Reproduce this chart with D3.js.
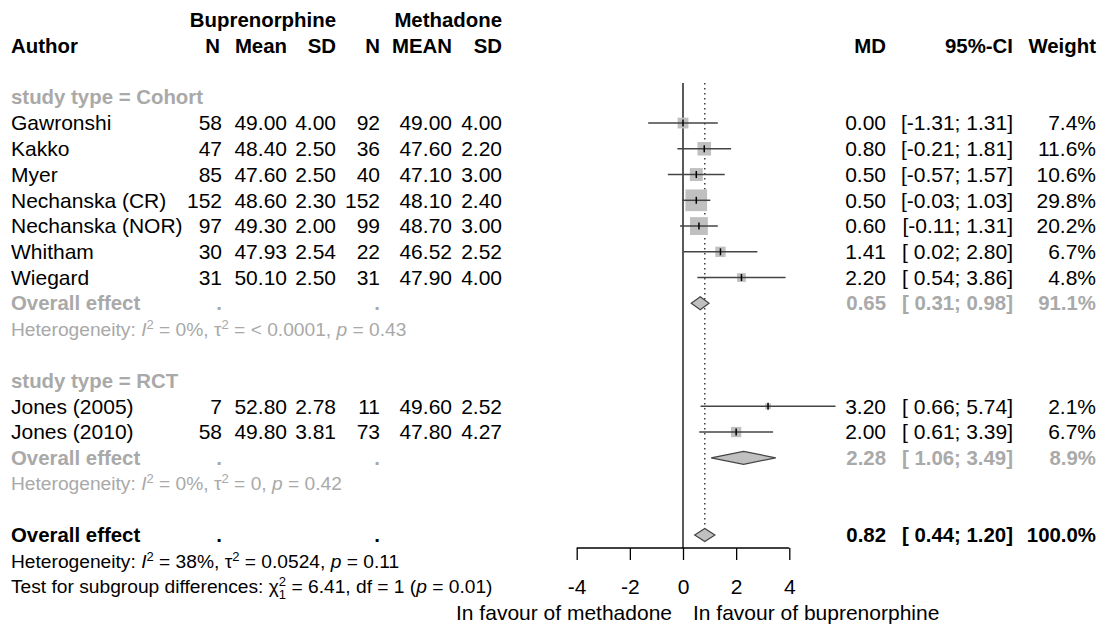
<!DOCTYPE html>
<html>
<head>
<meta charset="utf-8">
<script src="https://cdn.jsdelivr.net/npm/d3@7"></script>
<style>
  html, body { margin: 0; padding: 0; background: #ffffff; }
  svg { display: block; }
  text { font-family: 'Liberation Sans', Arial, Helvetica, sans-serif; }
</style>
</head>
<body>
<svg id="chart" width="1106" height="630"></svg>
<script>
// ---------------- data ----------------
const authors   = ["Gawronshi", "Kakko", "Myer", "Nechanska (CR)", "Nechanska (NOR)", "Whitham", "Wiegard", "Jones (2005)", "Jones (2010)"];
const studyType = ["Cohort", "Cohort", "Cohort", "Cohort", "Cohort", "Cohort", "Cohort", "RCT", "RCT"];
const nBup      = [58, 47, 85, 152, 97, 30, 31, 7, 58];
const meanBup   = ["49.00", "48.40", "47.60", "48.60", "49.30", "47.93", "50.10", "52.80", "49.80"];
const sdBup     = ["4.00", "2.50", "2.50", "2.30", "2.00", "2.54", "2.50", "2.78", "3.81"];
const nMet      = [92, 36, 40, 152, 99, 22, 31, 11, 73];
const meanMet   = ["49.00", "47.60", "47.10", "48.10", "48.70", "46.52", "47.90", "49.60", "47.80"];
const sdMet     = ["4.00", "2.20", "3.00", "2.40", "3.00", "2.52", "4.00", "2.52", "4.27"];
const md        = [0.00, 0.80, 0.50, 0.50, 0.60, 1.41, 2.20, 3.20, 2.00];
const ciLow     = [-1.31, -0.21, -0.57, -0.03, -0.11, 0.02, 0.54, 0.66, 0.61];
const ciHigh    = [1.31, 1.81, 1.57, 1.03, 1.31, 2.80, 3.86, 5.74, 3.39];
const weight    = [7.4, 11.6, 10.6, 29.8, 20.2, 6.7, 4.8, 2.1, 6.7];

const groupNames  = ["Cohort", "RCT"];
const groupMD     = [0.65, 2.28];
const groupLow    = [0.31, 1.06];
const groupHigh   = [0.98, 3.49];
const groupWeight = [91.1, 8.9];
const groupI2     = ["0%", "0%"];
const groupTau2   = ["< 0.0001", "0"];
const groupP      = ["0.43", "0.42"];

const overallMD = 0.82, overallLow = 0.44, overallHigh = 1.20, overallWeight = 100.0;
const overallI2 = "38%", overallTau2 = "0.0524", overallP = "0.11";
const subgroupChi = "6.41", subgroupDf = "1", subgroupP = "0.01";

const tickValues = [-4, -2, 0, 2, 4];
const leftLabel = "In favour of methadone";
const rightLabel = "In favour of buprenorphine";

// ---------------- layout ----------------
const svg = d3.select("#chart");
const FS = 21, BFS = 20.4, HFS = 19.2;
const grey = "#a9a9a9";

const x = d3.scaleLinear().domain([-4, 4]).range([576.7, 789.3]);
const rowY = d3.scaleLinear().domain([0, 1]).range([97.3, 123.05]);

const col = { author: 11, n1: 222, m1: 287, s1: 336, n2: 380, m2: 452, s2: 502, md: 886, ci: 1013, w: 1096 };

function txt(s, xp, row, opts = {}) {
  return svg.append("text")
    .attr("x", xp)
    .attr("y", rowY(row))
    .attr("dy", "0.35em")
    .attr("text-anchor", opts.anchor || "end")
    .attr("font-size", opts.size || (opts.bold ? BFS : FS))
    .attr("font-weight", opts.bold ? "bold" : "normal")
    .attr("fill", opts.color || "#000")
    .style("white-space", "pre")
    .text(s);
}
const f2 = d => d.toFixed(2);
const ciStr = (l, h) => "[" + (l < 0 ? "" : " ") + f2(l) + "; " + f2(h) + "]";
const wStr = w => w.toFixed(1) + "%";

// rows assignment
const rows = [];
let r = 0;
const groupRows = {};
groupNames.forEach((g) => {
  groupRows[g] = { header: r };
  r++;
  authors.forEach((a, i) => { if (studyType[i] === g) { rows[i] = r; r++; } });
  groupRows[g].overall = r; r++;
  groupRows[g].het = r; r++;
  r++; // blank
});
const overallRow = r, overallHetRow = r + 1, testRow = r + 2, favourRow = r + 3;

// ---------------- headers ----------------
txt("Buprenorphine", col.s1, -3, { bold: true });
txt("Methadone", col.s2, -3, { bold: true });
txt("Author", col.author, -2, { bold: true, anchor: "start" });
[["N", col.n1 - 2], ["Mean", col.m1], ["SD", col.s1], ["N", col.n2], ["MEAN", col.m2], ["SD", col.s2],
 ["MD", col.md], ["95%-CI", col.ci], ["Weight", col.w]].forEach(([s, xp]) => txt(s, xp, -2, { bold: true }));

// ---------------- reference lines ----------------
const plotTop = 83, axisY = 548;
svg.append("line").attr("x1", x(0)).attr("x2", x(0)).attr("y1", plotTop).attr("y2", axisY)
  .attr("stroke", "#000").attr("stroke-width", 1.3);
svg.append("line").attr("x1", x(overallMD)).attr("x2", x(overallMD)).attr("y1", plotTop).attr("y2", rowY(overallRow) - 6.5)
  .attr("stroke", "#333").attr("stroke-width", 1.4).attr("stroke-dasharray", "1.4,3.6");

// ---------------- studies ----------------
const maxW = d3.max(weight);
const side = d3.scaleSqrt().domain([0, maxW]).range([0, 21.7]);

authors.forEach((a, i) => {
  const row = rows[i];
  txt(a, col.author, row, { anchor: "start" });
  txt(String(nBup[i]), col.n1, row);
  txt(meanBup[i], col.m1, row);
  txt(sdBup[i], col.s1, row);
  txt(String(nMet[i]), col.n2, row);
  txt(meanMet[i], col.m2, row);
  txt(sdMet[i], col.s2, row);
  txt(f2(md[i]), col.md, row);
  txt(ciStr(ciLow[i], ciHigh[i]), col.ci, row);
  txt(wStr(weight[i]), col.w, row);

  const cy = rowY(row), s = side(weight[i]);
  svg.append("rect").attr("x", x(md[i]) - s / 2).attr("y", cy - s / 2).attr("width", s).attr("height", s)
    .attr("fill", "#c0c0c0");
  svg.append("line").attr("x1", x(ciLow[i])).attr("x2", x(ciHigh[i])).attr("y1", cy).attr("y2", cy)
    .attr("stroke", "#444").attr("stroke-width", 1.5);
  svg.append("line").attr("x1", x(md[i])).attr("x2", x(md[i])).attr("y1", cy - 3.5).attr("y2", cy + 3.5)
    .attr("stroke", "#000").attr("stroke-width", 1.5);
});

// ---------------- diamonds ----------------
function diamond(m, l, h, row) {
  const cy = rowY(row), hh = 6.5;
  const pts = [[x(l), cy], [x(m), cy - hh], [x(h), cy], [x(m), cy + hh]];
  svg.append("path").attr("d", d3.line()(pts) + "Z")
    .attr("fill", "#c0c0c0").attr("stroke", "#444").attr("stroke-width", 1.2);
}

// rich text helper for heterogeneity
function rich(row, parts, color, size) {
  const t = svg.append("text").attr("x", col.author).attr("y", rowY(row)).attr("dy", "0.35em")
    .attr("font-size", size).attr("fill", color).style("white-space", "pre");
  parts.forEach(p => {
    const ts = t.append("tspan").text(p.t);
    if (p.it) ts.attr("font-style", "italic");
    if (p.fs) ts.attr("font-size", p.fs);
    if (p.dx !== undefined) ts.attr("dx", p.dx);
    if (p.dy !== undefined) ts.attr("dy", p.dy);
  });
}
function hetParts(i2, tau2, p) {
  return [
    { t: "Heterogeneity: " }, { t: "I", it: true }, { t: "2", fs: 13, dy: -7 },
    { t: " = " + i2 + ", \u03c4", dy: 7 }, { t: "2", fs: 13, dy: -7 },
    { t: " = " + tau2 + ", ", dy: 7 }, { t: "p", it: true }, { t: " = " + p }
  ];
}

groupNames.forEach((g, gi) => {
  const gr = groupRows[g];
  txt("study type = " + g, col.author, gr.header, { anchor: "start", bold: true, color: grey });
  txt("Overall effect", col.author, gr.overall, { anchor: "start", bold: true, color: grey });
  txt(".", col.n1, gr.overall, { bold: true, color: grey });
  txt(".", col.n2, gr.overall, { bold: true, color: grey });
  txt(f2(groupMD[gi]), col.md, gr.overall, { bold: true, color: grey });
  txt(ciStr(groupLow[gi], groupHigh[gi]), col.ci, gr.overall, { bold: true, color: grey });
  txt(wStr(groupWeight[gi]), col.w, gr.overall, { bold: true, color: grey });
  diamond(groupMD[gi], groupLow[gi], groupHigh[gi], gr.overall);
  rich(gr.het, hetParts(groupI2[gi], groupTau2[gi], groupP[gi]), grey, HFS);
});

// overall
txt("Overall effect", col.author, overallRow, { anchor: "start", bold: true });
txt(".", col.n1, overallRow, { bold: true });
txt(".", col.n2, overallRow, { bold: true });
txt(f2(overallMD), col.md, overallRow, { bold: true });
txt(ciStr(overallLow, overallHigh), col.ci, overallRow, { bold: true });
txt(wStr(overallWeight), col.w, overallRow, { bold: true });
diamond(overallMD, overallLow, overallHigh, overallRow);
rich(overallHetRow, hetParts(overallI2, overallTau2, overallP), "#000", HFS);
rich(testRow, [
  { t: "Test for subgroup differences: \u03c7" },
  { t: "2", fs: 13, dy: -7 },
  { t: "1", fs: 13, dx: -7.2, dy: 13 },
  { t: " = " + subgroupChi + ", df = " + subgroupDf + " (", dy: -6 },
  { t: "p", it: true }, { t: " = " + subgroupP + ")" }
], "#000", HFS);

// ---------------- axis ----------------
const axis = d3.axisBottom(x).tickValues(tickValues).tickSize(12).tickFormat(d => String(d));
const ag = svg.append("g").attr("transform", `translate(0,${axisY})`).call(axis);
ag.select(".domain").attr("d", `M${x(-4)},0H${x(4)}`).attr("stroke", "#000").attr("stroke-width", 1.3);
ag.selectAll(".tick line").attr("stroke", "#000").attr("stroke-width", 1.3);
ag.selectAll(".tick text").attr("font-size", FS).attr("fill", "#000")
  .attr("font-family", "'Liberation Sans', Arial, sans-serif")
  .attr("y", rowY(testRow) - axisY).attr("dy", "0.35em");

txt(leftLabel, x(0) - 11, favourRow, { anchor: "end" });
txt(rightLabel, x(0) + 10, favourRow, { anchor: "start" });
</script>
</body>
</html>
